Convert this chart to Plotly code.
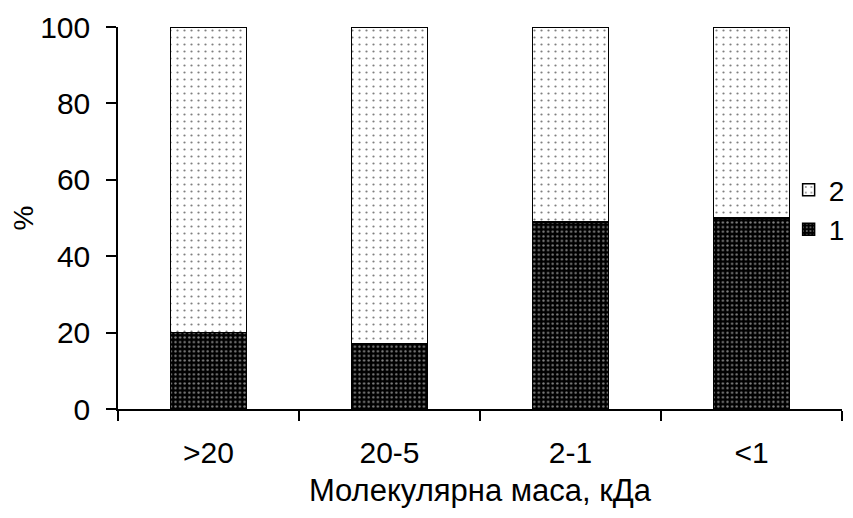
import plotly.graph_objects as go

categories = [">20", "20-5", "2-1", "<1"]
series1 = [20, 17, 49, 50]
series2 = [80, 83, 51, 50]
yticks = [0, 20, 40, 60, 80, 100]

FONT = "Liberation Sans, Arial, sans-serif"

fig = go.Figure()
fig.add_trace(go.Bar(
    x=categories, y=series1, name="1", width=0.42,
    marker=dict(color="black", line=dict(color="black", width=1.5),
                pattern=dict(shape=".", bgcolor="black", fgcolor="white",
                             size=4.6, solidity=0.2, fillmode="overlay")),
))
fig.add_trace(go.Bar(
    x=categories, y=series2, name="2", width=0.42,
    marker=dict(color="white", line=dict(color="black", width=1.5),
                pattern=dict(shape=".", bgcolor="white", fgcolor="black",
                             size=7, solidity=0.08, fillmode="overlay")),
))

fig.update_layout(
    barmode="stack",
    width=853, height=518,
    margin=dict(l=110, r=18, t=19, b=117),
    plot_bgcolor="white", paper_bgcolor="white",
    font=dict(family=FONT, size=30, color="black"),
    showlegend=True,
    legend=dict(traceorder="reversed", x=0.925, y=0.522, xanchor="left", yanchor="middle",
                font=dict(size=28), bgcolor="rgba(0,0,0,0)", itemwidth=30,
                tracegroupgap=4),
    xaxis=dict(
        type="category", range=[-0.5, 3.5], automargin=False,
        showline=True, linecolor="black", linewidth=1.5,
        ticks="outside", tickson="boundaries", ticklen=10, tickwidth=1.5, tickcolor="black",
        tickfont=dict(size=30), ticklabelstandoff=16,
        title=dict(text="Молекулярна маса, кДа", font=dict(size=31), standoff=12),
        showgrid=False,
    ),
    yaxis=dict(
        range=[0, 100], tickvals=yticks, automargin=False,
        showline=True, linecolor="black", linewidth=1.5,
        ticks="outside", ticklen=10, tickwidth=1.5, tickcolor="black",
        tickfont=dict(size=30), ticklabelstandoff=10,
        title=dict(text="%", font=dict(size=28), standoff=16),
        showgrid=False, zeroline=False,
    ),
)

fig.write_html("out.html")
